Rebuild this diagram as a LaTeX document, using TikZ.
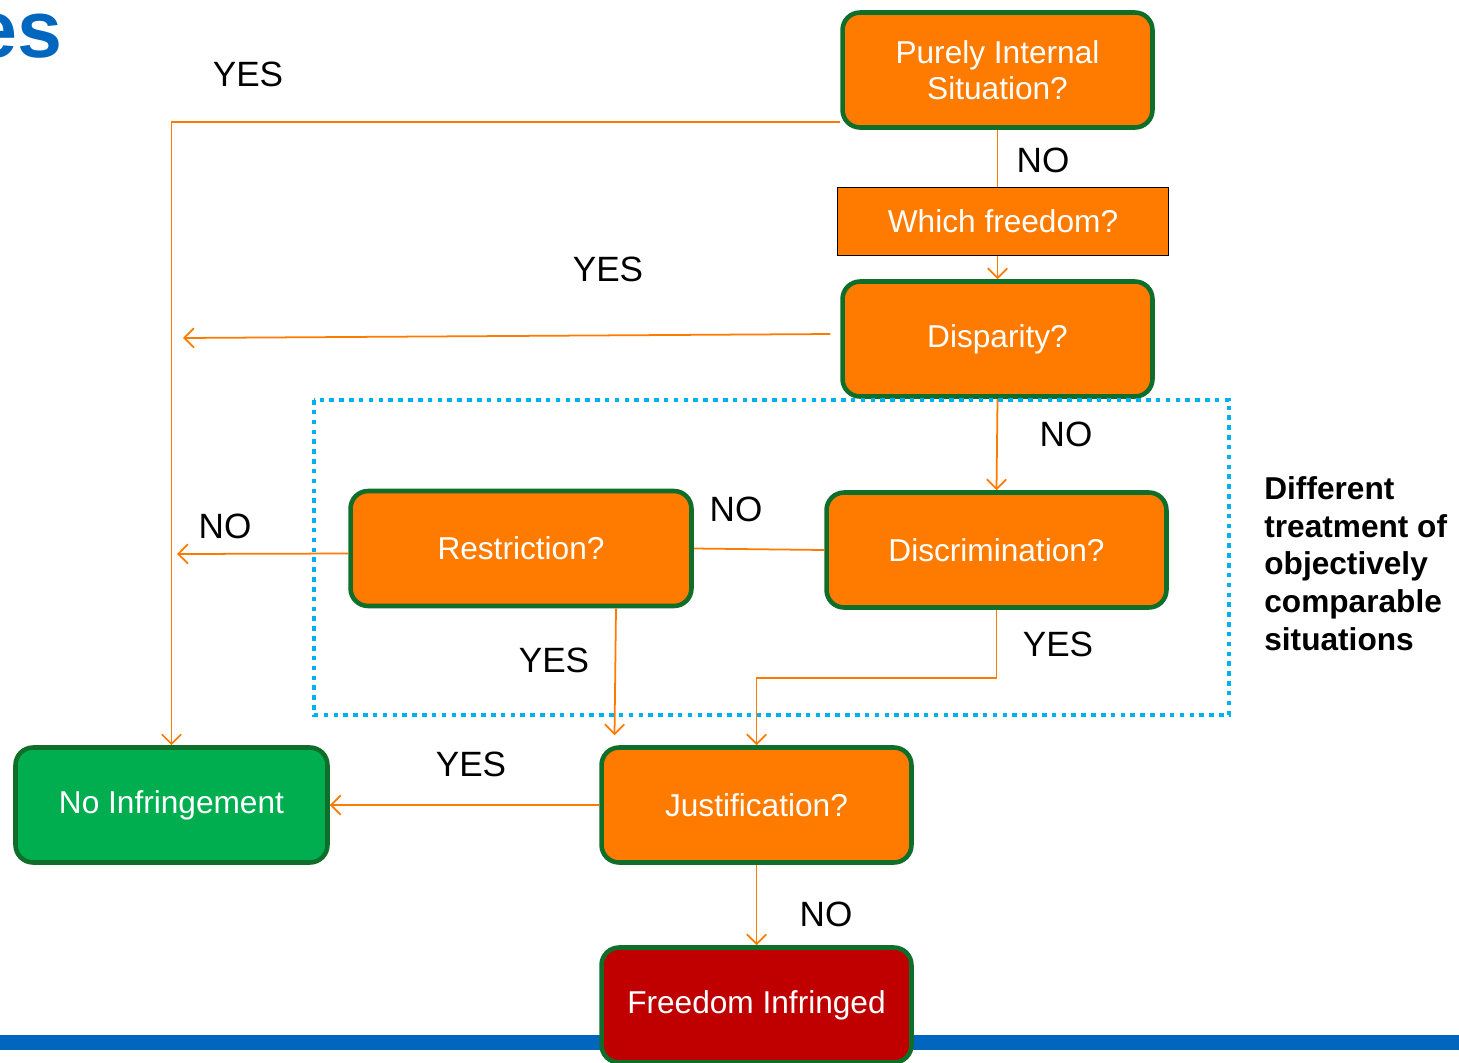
\documentclass[tikz,border=0pt]{standalone}
\usepackage{fontspec}
\setmainfont{Liberation Sans}
\usetikzlibrary{arrows.meta,calc}
\definecolor{boxorange}{RGB}{255,123,0}
\definecolor{boxgreen}{RGB}{14,110,42}
\definecolor{okgreen}{RGB}{0,174,80}
\definecolor{badred}{RGB}{192,0,0}
\definecolor{dotblue}{RGB}{0,176,240}
\definecolor{barblue}{RGB}{0,102,190}
\tikzstyle{Box}=[draw=boxgreen, line width=2.6pt, rounded corners=10pt, fill=boxorange, text=white, align=center, minimum width=6.2cm, minimum height=2.3cm, font=\fontsize{18}{20.5}\selectfont]
\tikzstyle{Arrow}=[draw=boxorange, line width=1pt, -{Straight Barb[length=5.5pt,width=11pt]}]
\tikzstyle{Line}=[draw=boxorange, line width=1pt]
\tikzstyle{Answer}=[font=\fontsize{20}{24}\selectfont]

\begin{document}
\begin{tikzpicture}[x=0.02cm,y=-0.02cm]

\useasboundingbox (0,0) rectangle (1459,1062);

\fill[barblue] (0,1035) rectangle (1459,1050);
\node[anchor=base east, inner sep=0, text=barblue, font=\fontsize{46}{50}\selectfont\bfseries] (title) at (63,57) {es};

\node[Box] (purely) at (997.5,70) {Purely Internal\\Situation?};
\node[Box, draw=black, line width=1pt, rounded corners=0pt, minimum width=6.62cm, minimum height=1.36cm] (freedom) at (1003,221.5) {Which freedom?};
\node[Box] (disparity) at (997.5,339) {Disparity?};
\node[Box, minimum width=6.82cm] (restr) at (521,548.5) {Restriction?};
\node[Box, minimum width=6.8cm] (discrim) at (996.5,550) {Discrimination?};
\node[Box] (justif) at (756.5,805) {Justification?};
\node[Box, fill=okgreen, minimum width=6.24cm] (noinf) at (171.5,805) {No Infringement};
\node[Box, fill=badred] (infringed) at (756.5,1005) {Freedom Infringed};

\draw[dotblue, line width=2.6pt, dash pattern=on 2.6pt off 3pt] (314,400) rectangle (1229,715);

\coordinate (dispend) at (183,338);
\coordinate (restrend) at (177,554);

\draw[Arrow] ($(purely.south west)+(0,-8)$) -| (noinf.north);
\draw[Line] (purely.south) -- (purely.south |- freedom.north);
\draw[Arrow] (freedom.south -| disparity.north) -- (disparity.north);
\draw[Arrow] ($(disparity.west)+(-10,-5)$) -- (dispend);
\draw[Arrow] (disparity.south) -- (discrim.north);
\draw[Line] (discrim.west) -- (restr.east);
\draw[Arrow] ($(restr.west)+(0,5)$) -- (restrend);
\draw[Arrow] ($(restr.south)+(95,0)$) -- ($(justif.north)+(-142,-10)$);
\draw[Arrow] (discrim.south) -- ++(0,68) -| (justif.north);
\draw[Arrow] (justif.west) -- (noinf.east);
\draw[Arrow] (justif.south) -- (infringed.north);

\node[Answer] (yesA) at (248,74) {YES};
\node[Answer] (noA) at (1043,160) {NO};
\node[Answer] (yesB) at (608,269) {YES};
\node[Answer] (noB) at (1066,434) {NO};
\node[Answer] (noC) at (736,509) {NO};
\node[Answer] (noD) at (225,526) {NO};
\node[Answer] (yesC) at (554,660) {YES};
\node[Answer] (yesD) at (1058,644) {YES};
\node[Answer] (yesE) at (471,764) {YES};
\node[Answer] (noE) at (826,914) {NO};

\node[anchor=north west, inner sep=0, align=left, font=\fontsize{18}{21.5}\selectfont\bfseries] (note) at (1264,476) {Different\\treatment of\\objectively\\comparable\\situations};

\end{tikzpicture}
\end{document}
